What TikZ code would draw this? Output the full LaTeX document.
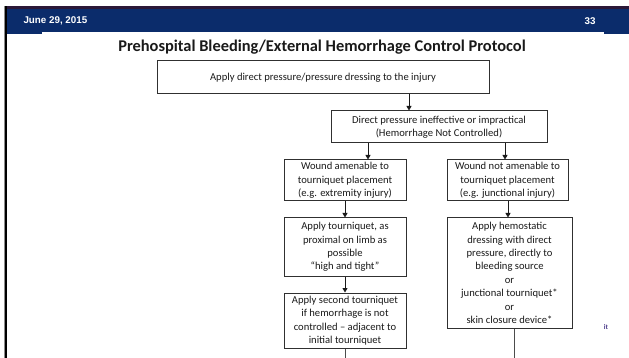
\documentclass[tikz,border=0pt]{standalone}
\usepackage{fontspec}
\setmainfont{Carlito}
\newfontfamily\arialf{Liberation Sans}
\usetikzlibrary{arrows.meta}
\definecolor{navy}{HTML}{0B2C6B}
\definecolor{topline}{HTML}{2B1838}
\definecolor{boxline}{HTML}{303030}
\definecolor{boxtext}{HTML}{1A1A1A}
\definecolor{strayc}{HTML}{4A3A8A}
\begin{document}
\begin{tikzpicture}[x=1pt,y=-1pt,
  box/.style={draw=boxline, line width=1pt, align=center, inner sep=0pt,
    text=boxtext, font=\fontsize{10.6}{13.4}\selectfont},
  arr/.style={draw=black!90, line width=0.9pt, -{Triangle[width=5pt,length=4.5pt]}},
  plain/.style={draw=black!70, line width=0.9pt},
  hdr/.style={text=white, font=\arialf\bfseries\fontsize{9.8}{11}\selectfont}
]
\useasboundingbox (0,0) rectangle (629,358);
\fill[white] (0,0) rectangle (629,358);
% header
\fill[topline] (4,6) rectangle (629,9.5);
\fill[navy] (5,9.5) rectangle (629,32);
\fill[navy] (5,32) rectangle (42,34);
\fill[navy] (604,32) rectangle (629,34);
\fill[black!45] (3.5,6) rectangle (4.5,358);
\fill[black] (4.5,6) rectangle (7,358);
\node[hdr, anchor=west] (date) at (20,21) {June 29, 2015};
\node[hdr] (pnum) at (590,21) {33};
% title
\node[text=boxtext, font=\bfseries\fontsize{16.4}{19}\selectfont] (title) at (322,47)
  {Prehospital Bleeding/External Hemorrhage Control Protocol};
% boxes
\node[box, minimum width=332pt, minimum height=33pt] (b1) at (323,77.5)
  {Apply direct pressure/pressure dressing to the injury};
\node[box, minimum width=216pt, minimum height=32pt] (b2) at (439,127)
  {Direct pressure ineffective or impractical\\(Hemorrhage Not Controlled)};
\node[box, minimum width=122pt, minimum height=41pt] (b3L) at (345,180.5)
  {Wound amenable to\\tourniquet placement\\(e.g. extremity injury)};
\node[box, minimum width=121pt, minimum height=41pt] (b3R) at (507.5,180.5)
  {Wound not amenable to\\tourniquet placement\\(e.g. junctional injury)};
\node[box, minimum width=122pt, minimum height=58pt] (b4L) at (345,247)
  {Apply tourniquet, as\\proximal on limb as\\possible\\``high and tight''};
\node[box, minimum width=125pt, minimum height=110pt] (b4R) at (509.5,273)
  {Apply hemostatic\\dressing with direct\\pressure, directly to\\bleeding source\\or\\junctional tourniquet*\\or\\skin closure device*};
\node[box, minimum width=122pt, minimum height=55pt] (b5L) at (345,320.5)
  {Apply second tourniquet\\if hemorrhage is not\\controlled -- adjacent to\\initial tourniquet};
% stray fragment at right
\node[text=strayc, font=\bfseries\fontsize{7}{8}\selectfont, inner sep=0pt] (stray) at (606,327) {it};
% connectors
\coordinate (c1) at (409,0);
\coordinate (c2) at (368,0);
\coordinate (c3) at (505,0);
\coordinate (c4) at (508,0);
\coordinate (eL) at (345,358);
\coordinate (eR) at (514,358);
\draw[arr] (b1.south -| c1) -- (b2.north -| c1);
\draw[arr] (b2.south -| c2) -- (b3L.north -| c2);
\draw[arr] (b2.south -| c3) -- (b3R.north -| c3);
\draw[arr] (b3L) -- (b4L);
\draw[arr] (b3R.south -| c4) -- (b4R.north -| c4);
\draw[arr] (b4L) -- (b5L);
\draw[plain] (b5L.south) -- (eL);
\draw[plain] (b4R.south -| eR) -- (eR);
\end{tikzpicture}
\end{document}
